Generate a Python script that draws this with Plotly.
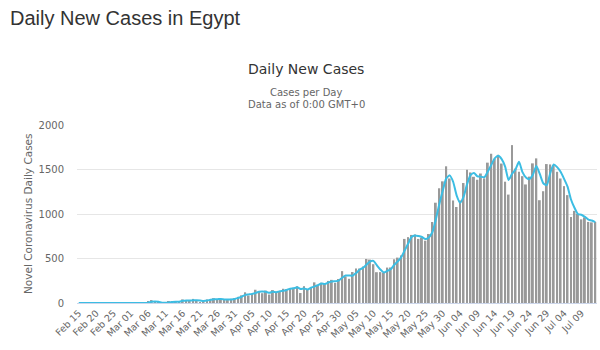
import pandas as pd
import plotly.graph_objects as go

start_date = "2020-02-15"

cases = (
    [0] * 15
    + [1, 0, 0, 0, 1, 12, 33]
    + [7, 4, 0, 8, 13, 13, 16, 17, 40]
    + [30, 14, 46, 29, 9, 33, 39, 36, 54, 39, 41, 40, 33, 47, 54]
    + [69, 86, 120, 85, 103, 149, 128, 110, 139, 95, 145, 126, 125, 160, 155,
       168, 171, 188, 112, 189, 157, 169, 232, 201, 227, 215, 248, 260, 226, 269]
    + [358, 298, 272, 348, 388, 387, 410, 495, 488, 436, 346, 347, 338, 398, 399,
       491, 510, 535, 720, 740, 765, 770, 720, 735, 700, 775, 910, 1127, 1289, 1367, 1536]
    + [1399, 1152, 1079, 1152, 1348, 1497, 1467, 1418, 1385, 1455, 1400, 1577,
       1677, 1618, 1665, 1567, 1363, 1218, 1774, 1510, 1475, 1425, 1332, 1420, 1569,
       1625, 1155, 1256, 1561, 1557]
    + [1550, 1474, 1399, 1313, 1212, 965, 1035, 1000, 940, 962, 911, 906, 911]
)

dates = pd.date_range(start_date, periods=len(cases), freq="D")
labels = [d.strftime("%b %d") for d in dates]
avg3 = pd.Series(cases).rolling(3, min_periods=1).mean().round(1).tolist()

tick_step = 5
y_ticks = [0, 500, 1000, 1500, 2000]

# layout geometry (pixels)
W, H = 600, 350
L, R, T, B = 77, 3, 125, 47
pw, ph = W - L - R, H - T - B


def xp(px):
    return (px - L) / pw


def yp(py):
    return (H - B - py) / ph


fig = go.Figure()
fig.add_trace(go.Bar(x=labels, y=cases, marker_color="#999999",
                     marker_line_width=0, name="Daily Cases"))
fig.add_trace(go.Scatter(x=labels, y=avg3, mode="lines",
                         line=dict(color="#3cbde3", width=2, shape="spline", smoothing=0.6),
                         name="3-day moving average"))

fig.update_layout(
    width=W, height=H,
    margin=dict(l=L, r=R, t=T, b=B),
    paper_bgcolor="white", plot_bgcolor="white",
    showlegend=False, bargap=0.45,
    font=dict(family="DejaVu Sans", color="#666666"),
)
fig.update_xaxes(
    type="category",
    tickmode="array",
    tickvals=labels[::tick_step],
    ticktext=labels[::tick_step],
    tickangle=-45,
    tickfont=dict(size=9.5, color="#666666", family="DejaVu Sans"),
    showgrid=False,
    showline=True, linecolor="#ccd6eb", linewidth=1,
    ticks="", range=[-0.5, len(cases) - 0.5],
)
fig.update_yaxes(
    range=[0, 2000],
    tickvals=y_ticks,
    tickfont=dict(size=10, color="#666666", family="DejaVu Sans"),
    showgrid=True, gridcolor="#e6e6e6", gridwidth=1,
    zeroline=False, showline=False,
    ticklabelstandoff=12,
)

annotations = [
    dict(text="Daily New Cases in Egypt", x=xp(8), y=yp(18), xanchor="left", yanchor="middle",
         font=dict(family="Liberation Sans", size=20, color="#333333")),
    dict(text="Daily New Cases", x=xp(306), y=yp(69), xanchor="center", yanchor="middle",
         font=dict(family="DejaVu Sans", size=14, color="#333333")),
    dict(text="Cases per Day", x=xp(306), y=yp(92), xanchor="center", yanchor="middle",
         font=dict(family="DejaVu Sans", size=10, color="#666666")),
    dict(text="Data as of 0:00 GMT+0", x=xp(306), y=yp(104), xanchor="center", yanchor="middle",
         font=dict(family="DejaVu Sans", size=10, color="#666666")),
    dict(text="Novel Coronavirus Daily Cases", x=xp(28), y=yp(214), xanchor="center",
         yanchor="middle", textangle=-90,
         font=dict(family="DejaVu Sans", size=10.5, color="#666666")),
]
for a in annotations:
    a.update(xref="paper", yref="paper", showarrow=False)
fig.update_layout(annotations=annotations)

fig.write_html("out.html")
